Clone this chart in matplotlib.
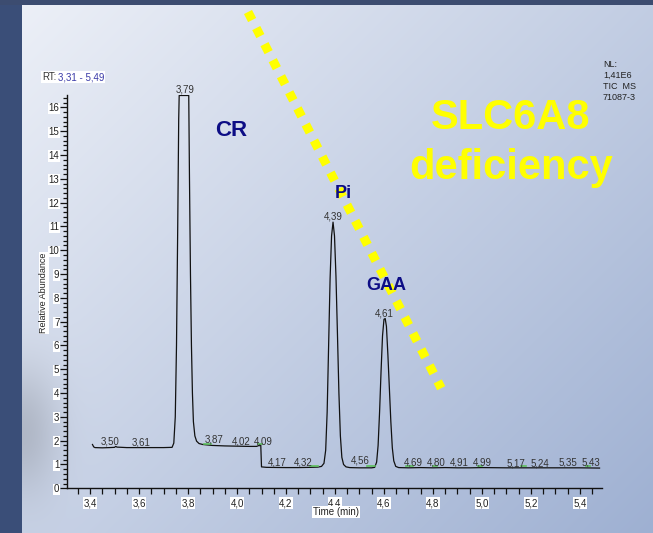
import numpy as np
import matplotlib
matplotlib.use("Agg")
import matplotlib.pyplot as plt
from matplotlib.ticker import MultipleLocator, FuncFormatter

plt.rcParams['font.family'] = ['Liberation Sans', 'DejaVu Sans']

# chromatogram trace (time in min, relative abundance)
times = [3.410, 3.415, 3.420, 3.450, 3.480, 3.500, 3.505, 3.510, 3.550, 3.600,
         3.650, 3.700, 3.735, 3.742, 3.748, 3.753, 3.758, 3.762, 3.764, 3.803,
         3.806, 3.810, 3.814, 3.818, 3.822, 3.828, 3.835, 3.845, 3.860, 3.880,
         3.900, 3.950, 4.000, 4.050, 4.080, 4.090, 4.097, 4.100, 4.120, 4.200,
         4.250, 4.300, 4.330, 4.345, 4.355, 4.362, 4.368, 4.374, 4.380, 4.386,
         4.392, 4.398, 4.404, 4.410, 4.416, 4.422, 4.428, 4.435, 4.445, 4.460,
         4.500, 4.550, 4.562, 4.570, 4.576, 4.582, 4.588, 4.594, 4.600, 4.605,
         4.610, 4.616, 4.622, 4.628, 4.634, 4.640, 4.648, 4.660, 4.700, 4.750,
         4.800, 4.850, 4.900, 4.950, 5.000, 5.100, 5.200, 5.300, 5.400, 5.480]
abundance = [1.84, 1.74, 1.71, 1.70, 1.71, 1.72, 1.76, 1.73, 1.71, 1.71,
             1.71, 1.71, 1.72, 1.90, 3.00, 6.00, 11.0, 15.5, 16.5, 16.5,
             13.0, 9.00, 6.00, 4.00, 2.80, 2.20, 1.98, 1.88, 1.84, 1.82,
             1.80, 1.78, 1.77, 1.76, 1.76, 1.80, 1.82, 0.90, 0.88, 0.87,
             0.87, 0.88, 0.89, 0.92, 1.05, 1.60, 3.20, 6.00, 8.80, 10.6,
             11.18, 10.6, 8.90, 6.50, 4.00, 2.20, 1.30, 1.00, 0.90, 0.87,
             0.86, 0.86, 0.88, 1.10, 1.80, 3.20, 4.90, 6.40, 7.10, 7.13,
             6.80, 5.60, 4.20, 2.80, 1.70, 1.15, 0.92, 0.87, 0.86, 0.87,
             0.86, 0.87, 0.86, 0.86, 0.87, 0.86, 0.86, 0.86, 0.86, 0.85]

# peak labels: value, where drawn (x), height of text centre
peak_labels = ['3,50', '3,61', '3,79', '3,87', '4,02', '4,09', '4,17', '4,32', '4,39',
               '4,56', '4,61', '4,69', '4,80', '4,91', '4,99', '5,17', '5,24', '5,35', '5,43']
label_x = [3.48, 3.607, 3.79, 3.908, 4.017, 4.107, 4.166, 4.271, 4.393,
           4.505, 4.603, 4.72, 4.813, 4.908, 5.0, 5.14, 5.236, 5.35, 5.443]
label_y = [1.98, 1.93, 16.75, 2.03, 1.98, 1.96, 1.08, 1.08, 11.43,
           1.15, 7.34, 1.08, 1.08, 1.08, 1.08, 1.06, 1.06, 1.08, 1.08]

# small green peak markers
marks_start = [3.865, 4.085, 4.300, 4.530, 4.690, 4.800, 4.985, 5.160, 5.425]
marks_end = [3.895, 4.100, 4.330, 4.565, 4.720, 4.815, 5.000, 5.180, 5.440]
marks_y = [1.86, 1.86, 0.93, 0.93, 0.92, 0.92, 0.92, 0.92, 0.92]

W, H = 653, 533
fig = plt.figure(figsize=(W / 100, H / 100), dpi=100)

# slide background
bg = fig.add_axes([0, 0, 1, 1], zorder=-5)
xx, yy = np.meshgrid(np.arange(W) / W, np.arange(H) / H)
t = 0.55 * xx + 0.45 * yy
light = np.array([238, 241, 248]) / 255
dark = np.array([158, 176, 210]) / 255
img = light + (dark - light) * t[..., None]
px, py = np.meshgrid(np.arange(W), np.arange(H))
shadow = 1 - 0.15 * np.exp(-((px - 22) ** 2) / (2 * 25 ** 2) - ((py - 430) ** 2) / (2 * 45 ** 2))
img = img * shadow[..., None]
img[:, :22] = np.array([58, 78, 120]) / 255
img[:5, :] = np.array([60, 76, 112]) / 255
bg.imshow(img, extent=[0, W, H, 0], aspect='auto')
bg.set_xlim(0, W)
bg.set_ylim(H, 0)
bg.axis('off')

ax = fig.add_axes([67 / W, (H - 488.3) / H, (602 - 67) / W, (488.3 - 95) / H])
ax.patch.set_alpha(0)
ax.plot(times, abundance, color='#111111', lw=0.9)
for s, e, y in zip(marks_start, marks_end, marks_y):
    ax.plot([s, e], [y, y], color='#5cbf5c', lw=1.2)
for lbl, x, y in zip(peak_labels, label_x, label_y):
    ax.text(x, y, lbl, fontsize=7, color='#333333', ha='center', va='center', clip_on=False)

ax.set_xlim(3.306, 5.49)
ax.set_ylim(0, 16.52)
for side in ['top', 'right']:
    ax.spines[side].set_visible(False)
for side in ['left', 'bottom']:
    ax.spines[side].set_linewidth(1.0)
    ax.spines[side].set_color('#111111')

ax.xaxis.set_major_locator(MultipleLocator(0.2))
ax.xaxis.set_minor_locator(MultipleLocator(0.05))
ax.yaxis.set_major_locator(MultipleLocator(1))
ax.yaxis.set_minor_locator(MultipleLocator(0.2))
ax.xaxis.set_major_formatter(FuncFormatter(lambda v, p: f'{v:.1f}'.replace('.', ',')))
ax.yaxis.set_major_formatter(FuncFormatter(lambda v, p: f'{int(round(v))}'))
ax.tick_params(axis='x', which='both', length=4, width=0.9, color='#111111',
               labelsize=7, pad=3, labelcolor='#222222')
ax.tick_params(axis='y', which='major', length=5, width=0.9, color='#111111',
               labelsize=7, pad=0.5, labelcolor='#222222')
ax.tick_params(axis='y', which='minor', length=3, width=0.9, color='#111111')
for lbl in ax.get_xticklabels() + ax.get_yticklabels():
    lbl.set_bbox(dict(facecolor='white', edgecolor='none', pad=0.4))

# axis titles
fig.text(44 / W, 1 - 293 / H, 'Relative Abundance', rotation=90, fontsize=6.5,
         ha='center', va='center', color='#222222',
         bbox=dict(facecolor='white', edgecolor='none', pad=0.4))
fig.text(336 / W, 1 - 512 / H, 'Time (min)', fontsize=7, ha='center', va='center',
         color='#222222', bbox=dict(facecolor='white', edgecolor='none', pad=0.4))

# header texts
fig.text(42 / W, 1 - 77 / H, 'RT:', fontsize=7, ha='left', va='center', color='#333333',
         bbox=dict(facecolor='white', edgecolor='none', pad=0.4))
fig.text(58 / W, 1 - 77 / H, '3,31 - 5,49', fontsize=7, ha='left', va='center', color='#3a3aa8',
         bbox=dict(facecolor='white', edgecolor='none', pad=0.4))
fig.text(603 / W, 1 - 60 / H, 'NL:\n1,41E6\nTIC  MS\n71087-3', fontsize=6.5, ha='left', va='top',
         color='#222222', linespacing=1.3)

# yellow dotted line (length chosen so it ends on a whole square)
line = plt.Line2D([248 / W, 441.2 / W], [1 - 12 / H, 1 - 388.2 / H], transform=fig.transFigure,
                  color='#ffff00', lw=6.5, dashes=(1.0, 1.0), solid_capstyle='butt',
                  dash_capstyle='butt')
fig.add_artist(line)

# annotations
fig.text(231 / W, 1 - 130 / H, 'CR', fontsize=16, fontweight='bold', color='#0d0d85',
         ha='center', va='center')
fig.text(343 / W, 1 - 193 / H, 'Pi', fontsize=13, fontweight='bold', color='#0d0d85',
         ha='center', va='center')
fig.text(386 / W, 1 - 285 / H, 'GAA', fontsize=13, fontweight='bold', color='#0d0d85',
         ha='center', va='center')
fig.text(511 / W, 1 - 118 / H, 'SLC6A8', fontsize=30, fontweight='bold', color='#ffff00',
         ha='center', va='center')
fig.text(511 / W, 1 - 168 / H, 'deficiency', fontsize=30, fontweight='bold', color='#ffff00',
         ha='center', va='center')

fig.savefig('out.png', dpi=100)
